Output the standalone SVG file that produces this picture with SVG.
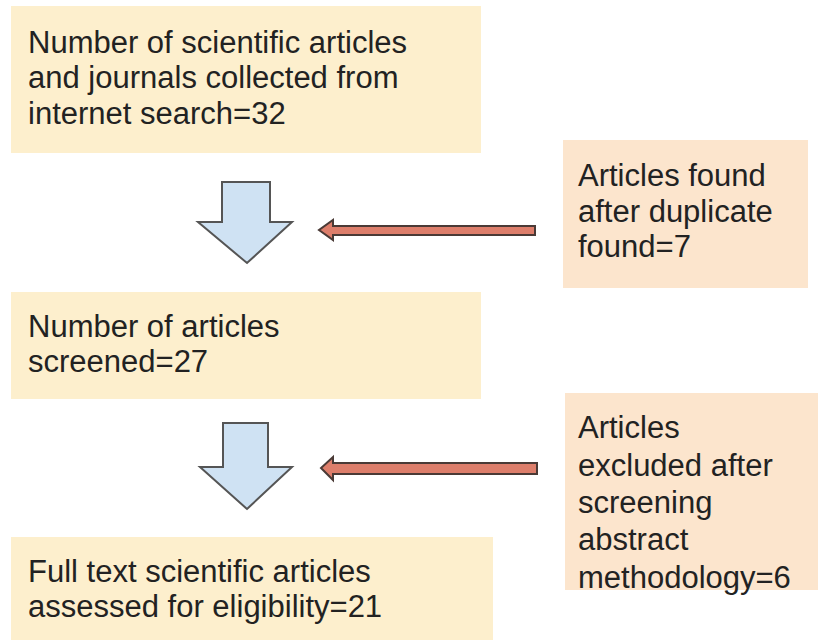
<svg xmlns="http://www.w3.org/2000/svg" width="820" height="640" viewBox="0 0 820 640">
<style>
.box-y{fill:#fdefcd;}
.box-o{fill:#fce5cd;}
.t{font-family:"Liberation Sans",Arial,sans-serif;font-size:31px;fill:#222222;}
.down{fill:#cfe2f3;stroke:#555;stroke-width:2;stroke-linejoin:miter;}
.left{fill:#dd7e6b;stroke:#4a3a36;stroke-width:2;}
</style>
<rect width="820" height="640" fill="#ffffff"/>
<g id="node-collected">
<rect class="box-y" x="11" y="6" width="470" height="147"/>
<text class="t" x="28" y="53">Number of scientific articles</text>
<text class="t" x="28" y="88">and journals collected from</text>
<text class="t" x="28" y="124">internet search=32</text>
</g>
<g id="node-duplicates">
<rect class="box-o" x="563" y="140" width="245" height="148"/>
<text class="t" x="578" y="186">Articles found</text>
<text class="t" x="578" y="222">after duplicate</text>
<text class="t" x="578" y="257">found=7</text>
</g>
<g id="node-screened">
<rect class="box-y" x="11" y="292" width="470" height="107"/>
<text class="t" x="28" y="337">Number of articles</text>
<text class="t" x="28" y="372">screened=27</text>
</g>
<g id="node-excluded">
<rect class="box-o" x="565" y="393" width="253" height="197"/>
<text class="t" x="578" y="438">Articles</text>
<text class="t" x="578" y="476">excluded after</text>
<text class="t" x="578" y="513">screening</text>
<text class="t" x="578" y="550">abstract</text>
<text class="t" x="578" y="588">methodology=6</text>
</g>
<g id="node-fulltext">
<rect class="box-y" x="11" y="537" width="482" height="103"/>
<text class="t" x="28" y="582">Full text scientific articles</text>
<text class="t" x="28" y="617">assessed for eligibility=21</text>
</g>
<g id="connectors">
<polygon class="down" points="222,182 270,182 270,222 292,222 247,263 198,222 222,222"/>
<polygon class="left" points="535,226 535,235 333,235 333,240 319,230 333,220 333,226"/>
<polygon class="down" points="223,423 268,423 268,467 292,467 247,509 200,467 223,467"/>
<polygon class="left" points="537,463 537,474 333,474 333,480 321,468 333,457 333,463"/>
</g>
</svg>
